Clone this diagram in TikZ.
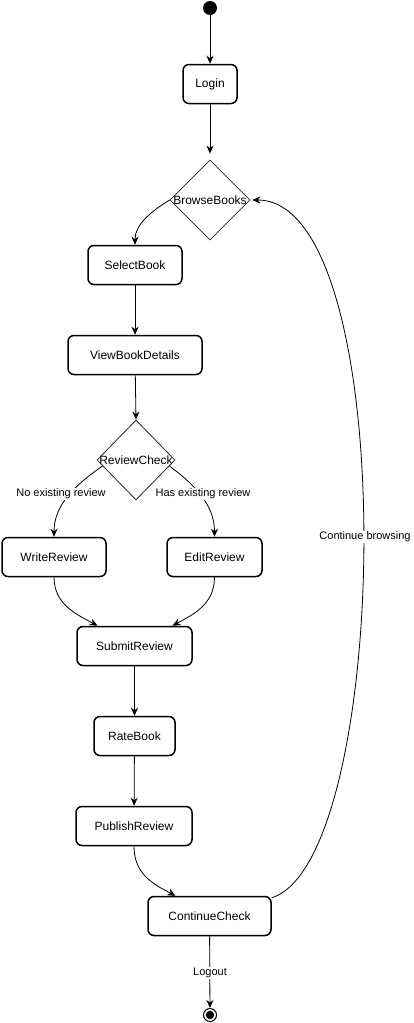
\documentclass[tikz,border=0pt]{standalone}
\usepackage{fontspec}
\setmainfont{Liberation Sans}
\usetikzlibrary{arrows.meta,shapes.geometric,calc}
\begin{document}
\begin{tikzpicture}[x=1pt,y=-1pt,
  state/.style={draw, line width=1.5pt, rounded corners=6pt, minimum height=39pt, inner sep=0pt, font=\fontsize{12}{14}\selectfont},
  decision/.style={draw, diamond, line width=0.8pt, draw=black!85, minimum width=80pt, minimum height=80pt, inner sep=0pt},
  dtext/.style={font=\fontsize{12}{14}\selectfont, inner sep=0pt},
  edge/.style={line width=0.8pt, -{Stealth[length=8pt,width=7pt,inset=2.5pt]}},
  lbl/.style={fill=white, font=\fontsize{11}{13}\selectfont, inner sep=1pt}]
\useasboundingbox (0,0) rectangle (413,1023);

\node[circle, fill=black, minimum size=14pt, inner sep=0pt] (start) at (210,8) {};
\node[state, minimum width=54pt] (login) at (210,84) {Login};
\node[decision] (bb) at (210,200) {};
\node[dtext] (bbt) at (210,200) {BrowseBooks};
\node[state, minimum width=94pt] (sb) at (135,265) {SelectBook};
\node[state, minimum width=134pt] (vd) at (135,355) {ViewBookDetails};
\node[decision, minimum width=78pt] (rc) at (136,460) {};
\node[dtext] (rct) at (136,460) {ReviewCheck};
\node[state, minimum width=104pt] (wr) at (54,557) {WriteReview};
\node[state, minimum width=95pt] (er) at (214.5,557) {EditReview};
\node[state, minimum width=115pt] (sr) at (134.5,646) {SubmitReview};
\node[state, minimum width=81pt] (rb) at (134.5,736) {RateBook};
\node[state, minimum width=116pt] (pr) at (134,826) {PublishReview};
\node[state, minimum width=123pt] (cc) at (209.5,916) {ContinueCheck};
\node[circle, draw, line width=1pt, minimum size=13pt, inner sep=0pt] (end) at (210,1015) {};
\node[circle, fill=black, minimum size=8.5pt, inner sep=0pt] (endin) at (end) {};

\draw[edge] (start) -- (login);
\draw[edge, shorten >=6pt] (login) -- (bb.north);
\draw[edge] (bb.west) .. controls (150,212) and (135,225) .. (sb.north);
\draw[edge] (sb) -- (vd);
\draw[edge] (vd) -- (rc.north);
\draw[edge] ($(rc.west)!0.15!(rc.south)$) .. controls (75,485) and (54,505) .. (wr.north);
\draw[edge] ($(rc.east)!0.15!(rc.south)$) .. controls (195,485) and (214.5,505) .. (er.north);
\draw[edge] (wr.south) .. controls (54,605) and (78,615) .. ([xshift=-37pt]sr.north);
\draw[edge] (er.south) .. controls (214.5,605) and (192,615) .. ([xshift=38pt]sr.north);
\draw[edge] (sr) -- (rb);
\draw[edge] (rb) -- (pr);
\draw[edge] (pr.south) .. controls (134,875) and (155,885) .. ([xshift=-34pt]cc.north);
\draw[edge] ([yshift=-2pt]cc.north east) .. controls (392,860) and (402,200) .. ([xshift=2pt]bb.east);
\draw[edge] (cc) -- (end);

\node[lbl] (l1) at (61,494) {No existing review};
\node[lbl] (l2) at (203,494) {Has existing review};
\node[lbl] (l3) at (365,537) {Continue browsing};
\node[lbl] (l4) at (210,973) {Logout};
\end{tikzpicture}
\end{document}
